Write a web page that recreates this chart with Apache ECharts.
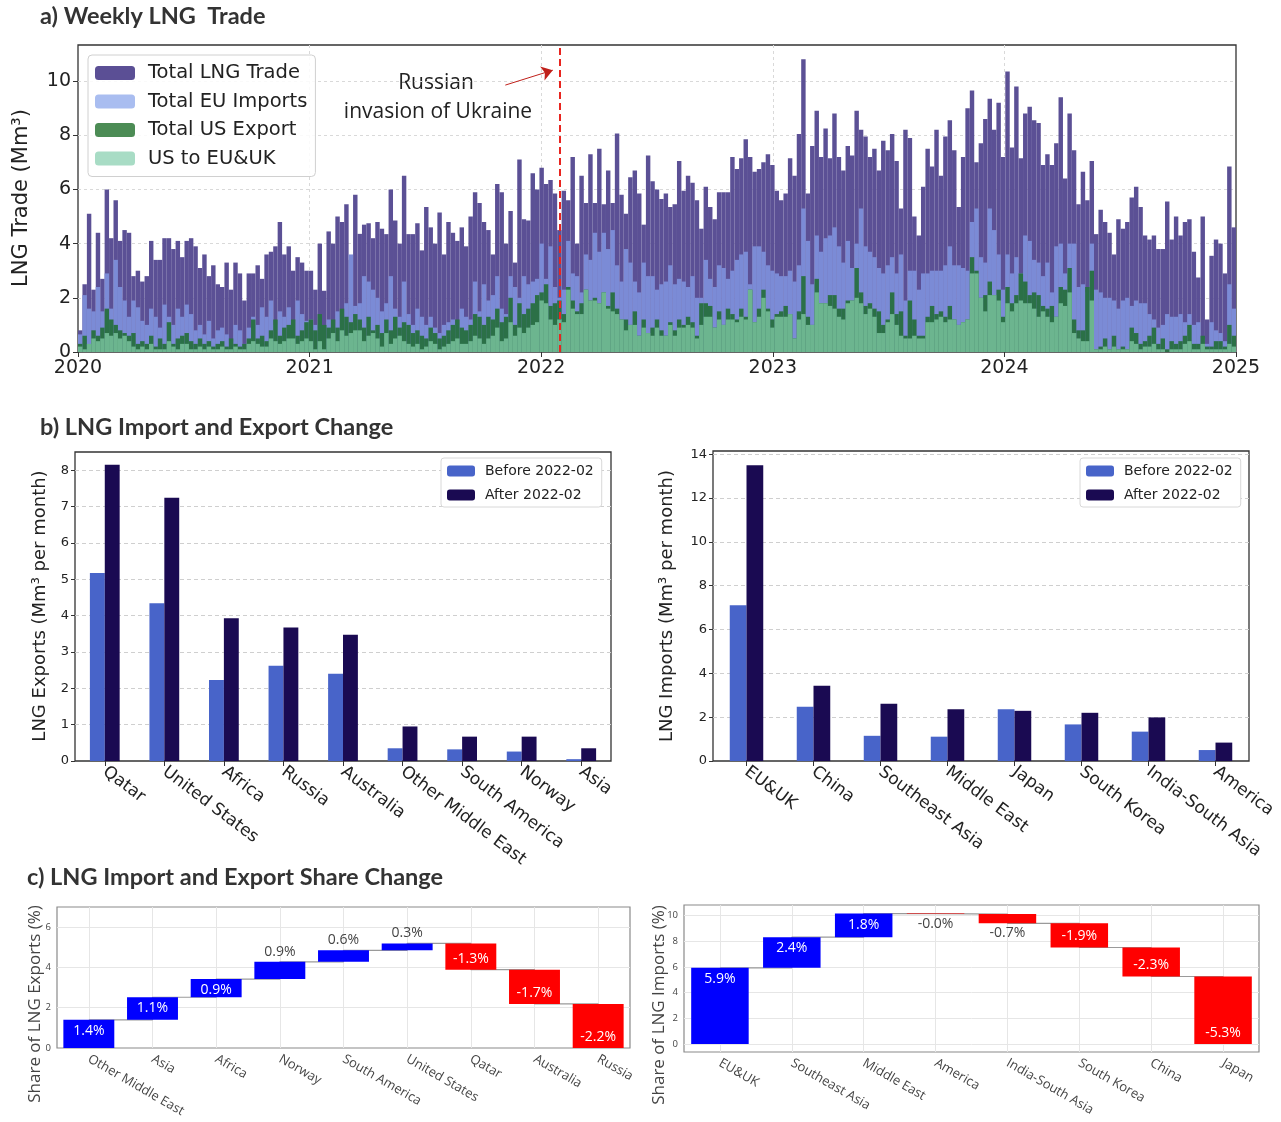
<!DOCTYPE html>
<html><head><meta charset="utf-8">
<script src="https://cdn.jsdelivr.net/npm/echarts@6/dist/echarts.min.js"></script>
<style>html,body{margin:0;padding:0;background:#fff}#c{width:1281px;height:1122px}</style>
</head><body><div id="c"></div><script>
// ---------- Panel a: weekly values (2020-01 .. 2024-12), Mm3 ----------
const weekTotal = [
0.8,2.5,5.1,2.3,4.4,2.7,6.0,4.2,5.6,4.1, 4.5,4.4,2.8,3.0,2.6,2.8,4.1,3.4,3.4,4.2, 4.2,3.8,4.1,3.5,4.1,4.2,3.9,3.1,3.6,2.8, 3.2,2.5,2.4,3.3,2.3,3.3,2.9,1.9,2.9,2.9, 3.2,2.7,3.6,3.7,3.9,4.8,3.6,3.9,3.0,3.5, 3.3,3.0,
3.0,2.3,4.0,2.26,4.45,4.0,5.0,4.8,5.45,3.4, 5.8,4.36,4.7,4.75,4.2,4.8,4.55,4.35,6.0,4.85, 4.0,6.5,4.35,4.35,4.75,3.75,5.35,4.6,4.0,5.15, 3.6,4.8,4.4,4.1,4.6,3.9,5.0,5.9,5.5,4.8, 4.5,3.6,6.2,5.9,4.0,5.2,3.3,7.1,4.9,4.85, 6.6,6.0,
6.8,6.2,6.35,5.85,4.5,5.95,5.6,7.2,4.0,6.5, 5.5,7.3,5.5,7.5,5.45,6.7,5.5,8.06,5.8,5.1, 6.45,6.7,5.85,4.7,7.25,6.3,6.0,5.65,5.85,5.35, 5.45,7.05,5.95,6.5,6.25,5.6,4.55,6.1,5.35,4.9, 5.9,5.9,5.9,7.2,6.75,7.15,7.85,7.2,6.65,6.75, 7.0,7.3,
6.9,5.95,5.6,5.85,7.15,6.5,8.05,10.8,5.85,7.6, 8.9,7.2,8.25,7.15,8.8,7.2,6.7,7.6,7.25,8.9, 8.2,7.95,7.2,7.5,6.7,7.8,7.45,8.05,7.05,5.3, 8.2,7.9,5.0,4.3,6.1,7.5,6.85,8.2,6.5,7.95, 8.55,7.45,5.35,7.2,9.0,9.65,7.0,7.7,8.6,9.35, 8.2,9.2,
7.2,10.35,7.55,9.8,7.15,8.8,9.05,8.55,8.45,6.9, 7.3,6.9,7.7,9.4,6.4,8.8,7.45,5.45,6.65,5.6, 7.05,4.35,5.25,4.8,4.4,3.6,4.9,4.55,4.8,5.7, 6.1,5.35,4.3,4.15,4.3,3.8,3.8,5.55,4.15,5.0, 4.3,4.8,4.9,3.7,2.75,5.0,1.2,3.55,4.15,4.0, 2.9,6.85,4.6];
const weekEUImports = [
0.65,2.1,1.6,1.5,2.4,1.5,2.9,1.6,3.4,2.4, 1.9,1.3,1.9,1.65,1.15,1.0,1.6,1.3,0.9,1.75, 1.3,1.0,1.6,1.3,1.75,1.4,0.8,1.0,0.65,1.15, 0.5,0.8,0.9,0.65,0.4,1.0,0.8,0.3,0.9,1.3, 1.0,1.65,1.3,1.9,1.0,1.5,1.3,1.65,1.15,1.9, 1.4,1.15,
1.2,1.0,0.9,0.8,1.2,1.0,1.5,1.3,1.8,3.6, 1.7,1.8,2.8,2.6,2.3,2.0,1.5,1.8,2.8,1.6, 1.3,2.6,1.4,1.0,1.6,1.3,1.0,1.3,0.9,0.7, 1.0,1.1,1.2,1.0,1.6,1.3,1.2,2.6,1.5,2.5, 1.9,2.1,2.8,1.6,1.4,2.8,2.4,2.0,2.8,2.5, 2.6,2.7,
4.0,2.7,3.9,2.4,2.0,2.3,4.1,2.9,2.8,2.2, 3.6,3.4,4.4,3.7,4.4,3.8,4.5,3.2,2.6,3.8, 3.3,2.6,2.2,3.3,2.8,2.8,2.3,2.5,2.6,3.2, 2.5,2.7,2.6,2.4,2.8,2.0,2.0,3.4,2.7,2.4, 3.2,3.1,2.7,3.0,3.4,3.6,3.7,2.5,3.9,3.9, 3.7,3.2,
3.0,2.9,2.8,2.8,3.0,2.6,3.2,5.3,4.1,2.5, 4.3,3.7,4.2,4.3,4.6,3.9,3.3,4.1,3.1,4.0, 5.3,3.9,3.7,3.5,3.1,2.9,3.2,3.5,2.9,3.6, 1.9,3.0,3.0,2.3,2.9,2.9,3.0,3.0,3.0,3.2, 3.9,3.2,3.2,3.1,3.0,4.8,5.3,3.5,3.3,5.3, 4.5,3.6,
2.3,3.6,2.9,3.5,2.9,4.3,4.1,3.4,3.3,2.8, 3.3,2.2,3.9,4.0,2.9,4.0,4.0,2.4,2.5,2.2, 4.0,2.3,2.2,2.0,2.0,1.9,1.6,1.9,2.0,1.7, 1.9,1.8,1.8,1.4,1.2,0.9,1.0,1.4,1.3,1.3, 1.4,1.1,1.4,1.0,1.1,0.5,0.3,1.1,0.8,0.7, 0.4,2.5,1.6];
const weekUSExport = [
0.3,0.6,0.2,0.8,0.6,0.9,1.6,1.2,1.0,0.8, 0.7,0.6,0.7,0.3,0.4,0.3,0.6,0.2,0.5,0.3, 1.1,0.3,0.5,0.6,0.7,0.4,0.3,0.5,0.3,0.4, 0.2,0.3,0.4,0.2,0.5,0.3,0.2,0.3,0.5,1.2, 0.5,0.6,0.4,0.8,1.2,0.6,0.9,1.0,1.2,0.6, 0.8,1.1,
1.2,0.8,1.4,1.0,0.9,1.2,0.9,1.6,1.3,1.1, 1.4,1.2,0.9,1.3,0.8,1.0,0.7,1.2,0.8,1.3, 0.9,1.1,1.0,0.7,0.8,0.6,0.5,0.9,0.7,0.5, 0.6,0.8,1.0,1.2,0.9,0.8,1.0,1.4,1.3,1.0, 1.3,1.2,1.6,1.1,1.3,2.0,1.0,1.8,1.4,1.6, 1.8,2.1,
2.2,2.5,1.7,1.8,1.9,1.4,2.4,1.9,1.5,1.8, 2.3,1.9,2.0,1.8,2.2,1.7,2.2,1.6,1.2,1.2, 1.0,1.5,0.6,1.2,0.7,0.9,1.2,0.8,0.6,1.1, 0.8,1.2,1.0,1.3,1.1,0.6,1.8,1.8,1.7,0.9, 1.5,1.0,1.6,1.4,1.2,1.6,1.3,2.3,1.1,1.6, 2.3,1.6,
1.2,1.4,1.5,1.7,1.4,0.5,1.5,2.8,1.3,1.0, 2.7,1.8,1.8,2.1,2.1,1.6,1.6,1.9,1.9,3.1, 2.2,1.7,1.8,1.6,1.5,1.0,1.2,2.2,1.4,1.5, 0.6,1.9,1.2,0.6,0.6,1.3,1.7,1.4,1.5,1.3, 1.7,1.2,1.0,1.1,1.2,3.5,3.0,2.0,2.1,2.6, 2.1,2.3,
1.3,2.4,1.8,2.1,2.9,2.6,2.1,2.2,2.1,1.7, 1.6,1.7,1.3,2.4,2.3,3.1,1.2,0.8,0.8,2.4, 3.0,0.1,0.2,0.5,0.1,0.6,0.1,0.2,0.1,0.9, 0.7,0.3,0.4,0.6,0.9,0.3,0.5,0.1,0.4,0.3, 0.4,0.6,1.0,0.3,0.3,0.6,0.2,0.2,0.4,0.4, 0.2,1.0,0.6];
const weekUSToEUUK = [
0.2,0.1,0.3,0.5,0.4,0.5,0.7,0.6,0.7,0.5, 0.6,0.4,0.2,0.1,0.2,0.1,0.3,0.1,0.1,0.1, 0.4,0.2,0.1,0.3,0.3,0.1,0.1,0.2,0.1,0.2, 0.1,0.1,0.2,0.1,0.1,0.2,0.1,0.1,0.3,0.4, 0.3,0.2,0.2,0.5,0.4,0.3,0.4,0.5,0.5,0.3, 0.4,0.5,
0.4,0.1,0.4,0.1,0.5,0.7,0.4,0.8,0.6,0.7, 0.8,0.8,0.4,0.6,0.7,0.5,0.2,0.7,0.3,0.5, 0.6,0.4,0.3,0.2,0.3,0.1,0.2,0.4,0.3,0.1, 0.2,0.3,0.4,0.5,0.3,0.3,0.4,0.6,0.5,0.3, 0.5,0.6,0.9,0.4,0.5,1.1,0.6,0.9,0.7,0.9, 1.0,1.1,
1.9,1.8,1.2,1.0,1.2,1.1,2.3,1.6,1.4,1.4, 2.3,1.9,1.9,1.8,2.2,1.6,1.5,1.4,1.2,0.8, 1.0,1.0,0.6,0.9,0.7,0.6,0.9,0.6,0.6,1.0, 0.6,0.9,0.9,1.0,0.9,0.5,1.0,1.3,1.3,0.9, 1.2,1.0,1.2,1.2,1.1,1.3,1.2,2.3,1.1,1.3, 2.0,1.5,
0.9,1.3,1.3,1.3,1.4,0.5,1.2,1.4,1.0,1.0, 2.2,1.8,1.8,1.7,1.6,1.3,1.2,1.8,1.9,2.0, 1.8,1.4,1.6,1.3,0.7,0.7,1.1,1.4,1.0,0.6, 0.5,0.5,0.6,0.5,0.5,1.1,1.1,1.2,1.3,1.1, 1.2,1.2,1.0,1.1,1.2,2.9,2.9,2.0,1.5,2.1, 2.1,1.9,
1.1,1.8,1.5,1.8,1.9,1.8,1.8,1.6,1.3,1.5, 1.3,1.1,1.3,1.8,1.7,2.2,0.7,0.5,0.4,0.4, 1.9,0.1,0.1,0.2,0.1,0.2,0.1,0.1,0.1,0.4, 0.3,0.1,0.2,0.2,0.3,0.1,0.1,0.0,0.1,0.1, 0.1,0.3,0.4,0.1,0.1,0.3,0.1,0.1,0.1,0.1, 0.1,0.3,0.2];
const yearStart = 2020, yearEnd = 2025;
const invasionYear = 2022.08;
const arrowFrom = [2021.845, 9.85], arrowTo = [2022.05, 10.4];

// ---------- Panel b ----------
const exportRegions = ['Qatar','United States','Africa','Russia','Australia','Other Middle East','South America','Norway','Asia'];
const exportBefore = [5.17,4.34,2.23,2.62,2.40,0.35,0.32,0.26,0.05];
const exportAfter  = [8.15,7.24,3.93,3.67,3.47,0.95,0.67,0.67,0.35];
const importRegions = ['EU&UK','China','Southeast Asia','Middle East','Japan','South Korea','India-South Asia','America'];
const importBefore = [7.11,2.48,1.15,1.11,2.36,1.67,1.34,0.50];
const importAfter  = [13.5,3.43,2.61,2.36,2.29,2.20,1.99,0.84];

// ---------- Panel c ----------
const exportShareRegions = ['Other Middle East','Asia','Africa','Norway','South America','United States','Qatar','Australia','Russia'];
const exportShareChange = [1.40,1.12,0.90,0.86,0.57,0.34,-1.30,-1.70,-2.19];
const importShareRegions = ['EU&UK','Southeast Asia','Middle East','America','India-South Asia','South Korea','China','Japan'];
const importShareChange = [5.94,2.38,1.84,-0.04,-0.72,-1.88,-2.26,-5.26];

// ================= build =================
const MPL = 'DejaVu Sans';
const PLT = 'Open Sans';
const TITLE = 'Lato';
const weekIdx = weekTotal.map((_, i) => i);

function waterfall(deltas) {
  let cum = 0; const base = [], height = [], ends = [];
  deltas.forEach(d => { const s = cum; cum = +(cum + d).toFixed(4); base.push(Math.min(s, cum)); height.push(Math.abs(d)); ends.push(cum); });
  return { base, height, ends };
}
function wfSeries(deltas, xi, yi, stack) {
  const w = waterfall(deltas);
  const items = deltas.map((d, i) => {
    const inside = Math.abs(d) >= 0.88;
    const pos = d >= 0 ? (inside ? 'insideTop' : 'top') : (inside ? 'insideBottom' : 'bottom');
    return { value: w.height[i], itemStyle: { color: d >= 0 ? '#0000ff' : '#ff0000' },
      label: { position: pos, color: inside ? '#ffffff' : '#444444', distance: inside ? 4 : 3 } };
  });
  return [
    { type: 'line', xAxisIndex: xi, yAxisIndex: yi, data: w.ends, step: 'end', symbol: 'none', z: 1, silent: true,
      lineStyle: { color: '#9a9a9a', width: 1.2 } },
    { type: 'bar', xAxisIndex: xi, yAxisIndex: yi, stack, data: w.base, barWidth: '80%', silent: true, z: 2,
      itemStyle: { color: 'rgba(0,0,0,0)' } },
    { type: 'bar', xAxisIndex: xi, yAxisIndex: yi, stack, data: items, barWidth: '80%', z: 2,
      label: { show: true, fontFamily: PLT, fontSize: 14,
        formatter: p => deltas[p.dataIndex].toFixed(1) + '%' } }
  ];
}

const grids = [
  { left: 78, top: 45, width: 1158, height: 307 },
  { left: 75, top: 452, width: 536, height: 309 },
  { left: 713, top: 451, width: 536, height: 310 },
  { left: 57, top: 907, width: 573, height: 141 },
  { left: 684, top: 905, width: 575, height: 147 }
].map((g, i) => Object.assign(g, { show: true, borderColor: i >= 3 ? '#8a8a8a' : '#333', borderWidth: i >= 3 ? 1.2 : 1.3, backgroundColor: 'transparent' }));

const mplCatX = (gi, data) => ({
  type: 'category', gridIndex: gi, data, boundaryGap: true, position: 'bottom',
  axisLine: { show: false },
  axisTick: { show: true, alignWithLabel: true, length: 5, lineStyle: { color: '#333' } },
  axisLabel: { interval: 0, rotate: -37, fontFamily: MPL, fontSize: 17, color: '#222', margin: 9 },
  splitLine: { show: false }
});
const pltCatX = (gi, data) => ({
  type: 'category', gridIndex: gi, data, boundaryGap: true, position: 'bottom',
  axisLine: { show: false }, axisTick: { show: false },
  axisLabel: { interval: 0, rotate: -30, fontFamily: PLT, fontSize: 13, color: '#444', margin: 10 },
  splitLine: { show: true, interval: 0, alignWithLabel: true, lineStyle: { color: '#e6e6e6', width: 1 } }
});
const noEdge = { showMinLine: false, showMaxLine: false };

const option = {
  animation: false,
  backgroundColor: '#ffffff',
  title: [
    { text: 'a) Weekly LNG  Trade', left: 40, top: 4 },
    { text: 'b) LNG Import and Export Change', left: 40, top: 415 },
    { text: 'c) LNG Import and Export Share Change', left: 27, top: 865 }
  ].map(t => Object.assign(t, { padding: 0, textStyle: { fontFamily: TITLE, fontWeight: 'bold', fontSize: 23.5, color: '#333' } })),
  grid: grids,
  legend: [
    { left: 88, top: 55, orient: 'vertical', itemWidth: 40, itemHeight: 14, itemGap: 8.5,
      padding: [8, 8, 8, 7], backgroundColor: 'rgba(255,255,255,0.85)', borderColor: '#d0d0d0', borderWidth: 1, borderRadius: 4,
      textStyle: { fontFamily: MPL, fontSize: 19.5, color: '#222', padding: [0, 0, 0, 8] },
      data: [
        { name: 'Total LNG Trade', itemStyle: { color: '#5b4f95' } },
        { name: 'Total EU Imports', itemStyle: { color: '#a9bdf0' } },
        { name: 'Total US Export', itemStyle: { color: '#4c8c55' } },
        { name: 'US to EU&UK', itemStyle: { color: '#a8dcc5' } }
      ] },
    { left: 441, top: 458, orient: 'vertical', itemWidth: 28, itemHeight: 11, itemGap: 10,
      padding: [6, 8, 5, 6], backgroundColor: '#fff', borderColor: '#d8d8d8', borderWidth: 1, borderRadius: 3,
      textStyle: { fontFamily: MPL, fontSize: 14, color: '#222', padding: [0, 0, 0, 5] },
      data: ['Before 2022-02', 'After 2022-02'] },
    { left: 1080, top: 458, orient: 'vertical', itemWidth: 28, itemHeight: 11, itemGap: 10,
      padding: [6, 8, 5, 6], backgroundColor: '#fff', borderColor: '#d8d8d8', borderWidth: 1, borderRadius: 3,
      textStyle: { fontFamily: MPL, fontSize: 14, color: '#222', padding: [0, 0, 0, 5] },
      data: ['Before 2022-02', 'After 2022-02'] }
  ],
  xAxis: [
    { type: 'category', gridIndex: 0, data: weekIdx, boundaryGap: true, show: false, position: 'top' },
    { type: 'value', gridIndex: 0, min: yearStart, max: yearEnd, interval: 1, position: 'bottom',
      axisLine: { show: false },
      axisTick: { show: true, length: 5, lineStyle: { color: '#333' } },
      axisLabel: { fontFamily: MPL, fontSize: 19, color: '#222', margin: 7, formatter: v => String(v) },
      splitLine: Object.assign({ show: true, lineStyle: { color: '#d9d9d9', type: [3, 3], width: 1 } }, noEdge) },
    mplCatX(1, exportRegions),
    mplCatX(2, importRegions),
    pltCatX(3, exportShareRegions),
    pltCatX(4, importShareRegions)
  ],
  yAxis: [
    { type: 'value', gridIndex: 0, min: 0, max: 11.33, interval: 2,
      axisLine: { show: false }, axisTick: { show: true, length: 5, lineStyle: { color: '#333' } },
      axisLabel: { fontFamily: MPL, fontSize: 19, color: '#222', margin: 7, showMaxLabel: false },
      splitLine: Object.assign({ show: true, lineStyle: { color: '#d9d9d9', type: [3, 3], width: 1 } }, noEdge) },
    { type: 'value', gridIndex: 1, min: 0, max: 8.5, interval: 1,
      axisLine: { show: false }, axisTick: { show: true, length: 4, lineStyle: { color: '#333' } },
      axisLabel: { fontFamily: MPL, fontSize: 13, color: '#222', margin: 6, showMaxLabel: false },
      splitLine: Object.assign({ show: true, lineStyle: { color: '#cfcfcf', type: [4, 3], width: 1 } }, noEdge) },
    { type: 'value', gridIndex: 2, min: 0, max: 14.15, interval: 2,
      axisLine: { show: false }, axisTick: { show: true, length: 4, lineStyle: { color: '#333' } },
      axisLabel: { fontFamily: MPL, fontSize: 13, color: '#222', margin: 6, showMaxLabel: false },
      splitLine: Object.assign({ show: true, lineStyle: { color: '#cfcfcf', type: [4, 3], width: 1 } }, noEdge) },
    { type: 'value', gridIndex: 3, min: 0, max: 7.0, interval: 2,
      axisLine: { show: false }, axisTick: { show: false },
      axisLabel: { fontFamily: PLT, fontSize: 9.5, color: '#444', margin: 6, showMaxLabel: false },
      splitLine: Object.assign({ show: true, lineStyle: { color: '#e6e6e6', width: 1 } }, noEdge) },
    { type: 'value', gridIndex: 4, min: -0.62, max: 10.83, splitNumber: 5,
      axisLine: { show: false }, axisTick: { show: false },
      axisLabel: { fontFamily: PLT, fontSize: 9.5, color: '#444', margin: 6, showMaxLabel: false, showMinLabel: false },
      splitLine: Object.assign({ show: true, lineStyle: { color: '#e6e6e6', width: 1 } }, noEdge) }
  ],
  series: [
    { name: 'Total LNG Trade', type: 'bar', xAxisIndex: 0, yAxisIndex: 0, data: weekTotal, barWidth: '100%', barGap: '-100%', itemStyle: { color: '#5b5095' } },
    { name: 'Total EU Imports', type: 'bar', xAxisIndex: 0, yAxisIndex: 0, data: weekEUImports, barWidth: '100%', barGap: '-100%', itemStyle: { color: '#7b8bd6' } },
    { name: 'Total US Export', type: 'bar', xAxisIndex: 0, yAxisIndex: 0, data: weekUSExport, barWidth: '100%', barGap: '-100%', itemStyle: { color: '#2b7047' } },
    { name: 'US to EU&UK', type: 'bar', xAxisIndex: 0, yAxisIndex: 0, data: weekUSToEUUK, barWidth: '100%', barGap: '-100%', itemStyle: { color: '#6cb58f' } },
    { type: 'line', xAxisIndex: 1, yAxisIndex: 0, data: [], silent: true,
      markLine: { silent: true, symbol: 'none', label: { show: false },
        lineStyle: { color: '#e8251f', type: [7, 4], width: 2 },
        data: [{ xAxis: invasionYear }] } },
    { type: 'line', xAxisIndex: 1, yAxisIndex: 0, data: [], silent: true,
      markLine: { silent: true, symbol: ['none', 'arrow'], symbolSize: 11, label: { show: false },
        lineStyle: { color: '#c0201a', type: 'solid', width: 1 },
        data: [[{ coord: arrowFrom }, { coord: arrowTo }]] } },
    { name: 'Before 2022-02', type: 'bar', xAxisIndex: 2, yAxisIndex: 1, data: exportBefore, barWidth: '25%', barGap: '0%', itemStyle: { color: '#4864c9' } },
    { name: 'After 2022-02', type: 'bar', xAxisIndex: 2, yAxisIndex: 1, data: exportAfter, barWidth: '25%', barGap: '0%', itemStyle: { color: '#1a0a52' } },
    { name: 'Before 2022-02', type: 'bar', xAxisIndex: 3, yAxisIndex: 2, data: importBefore, barWidth: '25%', barGap: '0%', itemStyle: { color: '#4864c9' } },
    { name: 'After 2022-02', type: 'bar', xAxisIndex: 3, yAxisIndex: 2, data: importAfter, barWidth: '25%', barGap: '0%', itemStyle: { color: '#1a0a52' } },
    ...wfSeries(exportShareChange, 4, 3, 'wfExp'),
    ...wfSeries(importShareChange, 5, 4, 'wfImp')
  ],
  graphic: [
    { type: 'text', x: 22, y: 198, rotation: Math.PI / 2, style: { text: 'LNG Trade (Mm³)', fontFamily: MPL, fontSize: 21, fill: '#222', align: 'center', verticalAlign: 'middle' } },
    { type: 'text', x: 40, y: 606, rotation: Math.PI / 2, style: { text: 'LNG Exports (Mm³ per month)', fontFamily: MPL, fontSize: 18, fill: '#222', align: 'center', verticalAlign: 'middle' } },
    { type: 'text', x: 667, y: 606, rotation: Math.PI / 2, style: { text: 'LNG Imports (Mm³ per month)', fontFamily: MPL, fontSize: 18, fill: '#222', align: 'center', verticalAlign: 'middle' } },
    { type: 'text', x: 35, y: 1004, rotation: Math.PI / 2, style: { text: 'Share of LNG Exports (%)', fontFamily: PLT, fontSize: 17, fill: '#444', align: 'center', verticalAlign: 'middle' } },
    { type: 'text', x: 659, y: 1005, rotation: Math.PI / 2, style: { text: 'Share of LNG Imports (%)', fontFamily: PLT, fontSize: 17, fill: '#444', align: 'center', verticalAlign: 'middle' } },
    { type: 'text', x: 436, y: 83, style: { text: 'Russian', fontFamily: PLT, fontSize: 21, fill: '#222', align: 'center', verticalAlign: 'middle' } },
    { type: 'text', x: 438, y: 112, style: { text: 'invasion of Ukraine', fontFamily: PLT, fontSize: 21, fill: '#222', align: 'center', verticalAlign: 'middle' } }
  ]
};
const chart = echarts.init(document.getElementById('c'), null, { renderer: 'canvas' });
chart.setOption(option);
</script></body></html>
